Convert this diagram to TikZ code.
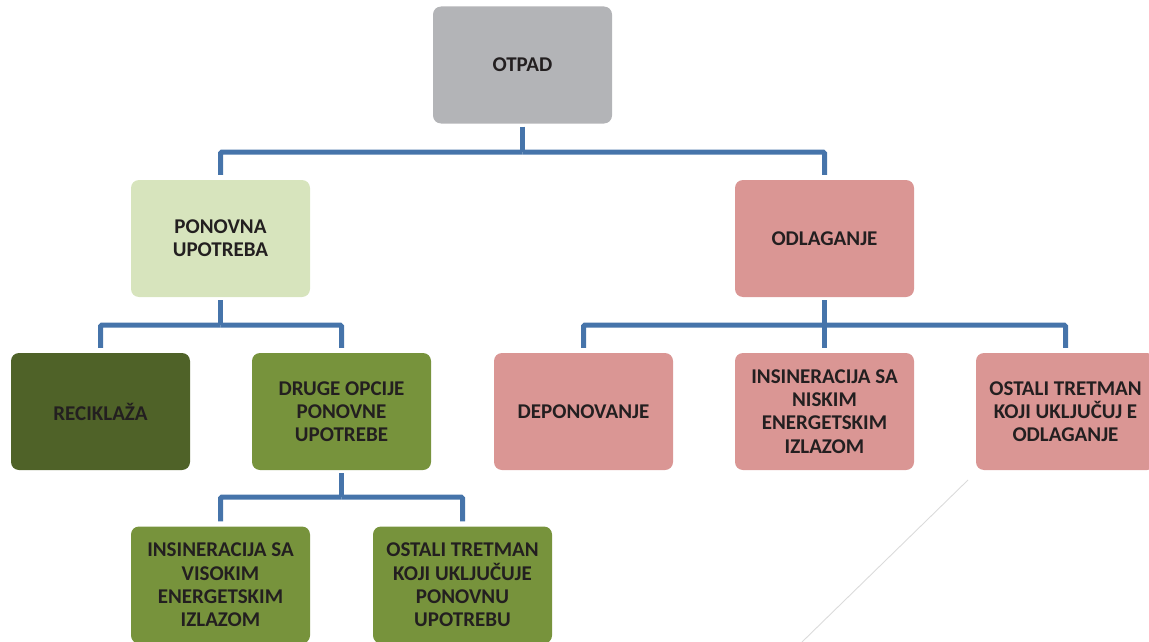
\documentclass[tikz,border=0pt]{standalone}
\usepackage{fontspec}
\setmainfont{Carlito}
\definecolor{cgray}{HTML}{B3B4B7}
\definecolor{clgreen}{HTML}{D7E4BD}
\definecolor{cpink}{HTML}{DA9694}
\definecolor{cdgreen}{HTML}{4F6228}
\definecolor{cgreen}{HTML}{77933C}
\definecolor{cline}{HTML}{4674AA}
\definecolor{ctext}{HTML}{231F20}
\begin{document}
\begin{tikzpicture}[x=1pt,y=-1pt,
  box/.style={rounded corners=8pt, minimum width=179pt, minimum height=117pt, inner sep=0pt,
    align=center, text=ctext, font=\bfseries\fontsize{21}{23.3}\selectfont},
  conn/.style={draw=cline, line width=5pt, rounded corners=1.5pt, shorten <=3pt, shorten >=5pt}]
\useasboundingbox (0,0) rectangle (1149,642);
\clip (0,0) rectangle (1149,642);
\node[box, fill=cgray] (otpad) at (522.5,65) {OTPAD};
\node[box, fill=clgreen] (pon) at (220.5,238.5) {PONOVNA\\UPOTREBA};
\node[box, fill=cpink] (odl) at (824.5,238.5) {ODLAGANJE};
\node[box, fill=cdgreen] (rec) at (100.5,411.5) {RECIKLAŽA};
\node[box, fill=cgreen] (dru) at (341.5,411.5) {DRUGE OPCIJE\\PONOVNE\\UPOTREBE};
\node[box, fill=cpink] (dep) at (583.5,411.5) {DEPONOVANJE};
\node[box, fill=cpink] (ins) at (824.5,411.5) {INSINERACIJA SA\\NISKIM\\ENERGETSKIM\\IZLAZOM};
\node[box, fill=cpink] (ost) at (1065.5,411.5) {OSTALI TRETMAN\\KOJI UKLJUČUJ E\\ODLAGANJE};
\node[box, fill=cgreen] (vis) at (220.5,585) {INSINERACIJA SA\\VISOKIM\\ENERGETSKIM\\IZLAZOM};
\node[box, fill=cgreen] (ostp) at (462.5,585) {OSTALI TRETMAN\\KOJI UKLJUČUJE\\PONOVNU\\UPOTREBU};
% connectors
\coordinate (j1) at (522.5,152);
\coordinate (j2) at (220.5,325);
\coordinate (j3) at (824.5,325);
\coordinate (j4) at (341.5,497);
\draw[conn, shorten >=0pt] (otpad.south) -- (j1);
\draw[conn, shorten <=0pt] (j1) -| (pon.north);
\draw[conn, shorten <=0pt] (j1) -| (odl.north);
\draw[conn, shorten >=0pt] (pon.south) -- (j2);
\draw[conn, shorten <=0pt] (j2) -| (rec.north);
\draw[conn, shorten <=0pt] (j2) -| (dru.north);
\draw[conn, shorten >=0pt] (odl.south) -- (j3);
\draw[conn, shorten <=0pt] (j3) -| (dep.north);
\draw[conn, shorten <=0pt] (j3) -| (ins.north);
\draw[conn, shorten <=0pt] (j3) -| (ost.north);
\draw[conn, shorten >=0pt] (dru.south) -- (j4);
\draw[conn, shorten <=0pt] (j4) -| (vis.north);
\draw[conn, shorten <=0pt] (j4) -| (ostp.north);
% faint line
\coordinate (f1) at (968,480);
\coordinate (f2) at (802,642);
\draw[black!14, line width=0.9pt] (f1) -- (f2);
\end{tikzpicture}
\end{document}
